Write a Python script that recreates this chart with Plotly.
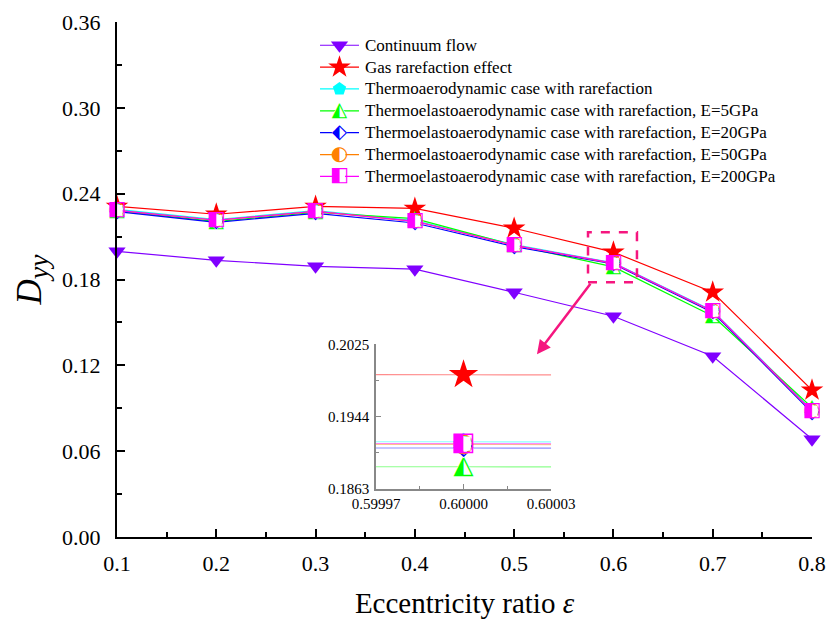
import plotly.graph_objects as go

# ---------------- data ----------------
eps = [0.1, 0.2, 0.3, 0.4, 0.5, 0.6, 0.7, 0.8]
continuum = [0.1997, 0.1934, 0.1892, 0.1872, 0.1711, 0.1543, 0.1264, 0.0684]
rarefaction = [0.2311, 0.2256, 0.2311, 0.2297, 0.2158, 0.1991, 0.1711, 0.1027]
thermo = [0.2290, 0.2218, 0.2282, 0.2212, 0.2044, 0.1916, 0.1582, 0.0885]
te_5 = [0.2280, 0.2205, 0.2270, 0.2226, 0.2040, 0.1888, 0.1545, 0.0905]
te_20 = [0.2275, 0.2200, 0.2262, 0.2195, 0.2030, 0.1909, 0.1570, 0.0870]
te_50 = [0.2284, 0.2214, 0.2276, 0.2207, 0.2039, 0.1913, 0.1577, 0.0879]
te_200 = [0.2283, 0.2214, 0.2277, 0.2207, 0.2039, 0.1914, 0.1578, 0.0880]

names = [
    "Continuum flow",
    "Gas rarefaction effect",
    "Thermoaerodynamic case with rarefaction",
    "Thermoelastoaerodynamic case with rarefaction, E=5GPa",
    "Thermoelastoaerodynamic case with rarefaction, E=20GPa",
    "Thermoelastoaerodynamic case with rarefaction, E=50GPa",
    "Thermoelastoaerodynamic case with rarefaction, E=200GPa",
]
series = [continuum, rarefaction, thermo, te_5, te_20, te_50, te_200]

y_ticks = [0.00, 0.06, 0.12, 0.18, 0.24, 0.30, 0.36]
x_ticks = [0.1, 0.2, 0.3, 0.4, 0.5, 0.6, 0.7, 0.8]
inset_x_ticks = [0.59997, 0.60000, 0.60003]
inset_x_labels = ["0.59997", "0.60000", "0.60003"]
inset_y_ticks = [0.1863, 0.1944, 0.2025]
inset_y_labels = ["0.1863", "0.1944", "0.2025"]

# ---------------- styles ----------------
colors = ["#8000FF", "#FF0000", "#00FFFF", "#00FF00", "#0000FF", "#FF8000", "#FF00FF"]
faint = ["rgba(128,0,255,0.45)", "rgba(255,0,0,0.45)", "rgba(0,255,255,0.45)",
         "rgba(0,255,0,0.45)", "rgba(0,0,255,0.45)", "rgba(255,128,0,0.45)",
         "rgba(255,0,255,0.45)"]
styles = [
    dict(kind="sym", symbol="triangle-down", size=15),
    dict(kind="sym", symbol="star", size=17),
    dict(kind="sym", symbol="pentagon", size=14),
    dict(kind="glyph", glyph="\u25ED", back="triangle-up", gsize=20, bsize=12),
    dict(kind="glyph", glyph="\u2B16", back="diamond", gsize=20, bsize=12),
    dict(kind="glyph", glyph="\u25D0", back="circle", gsize=20, bsize=12),
    dict(kind="glyph", glyph="\u25E7", back="square", gsize=20, bsize=11),
]

SERIF = "Liberation Serif"
PINK = "#F5167F"


def add_series(fig, x, y, i, xa, ya, scale, linecolor, linewidth, clip, lines=True):
    st = styles[i]
    c = colors[i]
    if lines:
        fig.add_trace(go.Scatter(x=x, y=y, xaxis=xa, yaxis=ya, mode="lines", showlegend=False,
                                 line=dict(color=linecolor, width=linewidth), hoverinfo="skip"))
    return (x, y, xa, ya, scale, clip, i)


def add_markers(fig, x, y, i, xa, ya, scale, clip):
    st = styles[i]
    c = colors[i]
    common = dict(x=x, y=y, xaxis=xa, yaxis=ya, showlegend=False, cliponaxis=clip,
                  hoverinfo="skip")
    if st["kind"] == "sym":
        fig.add_trace(go.Scatter(mode="markers",
                                 marker=dict(symbol=st["symbol"], size=st["size"] * scale,
                                             color=c, line=dict(width=0)),
                                 **common))
    else:
        fig.add_trace(go.Scatter(mode="markers+text", text=[st["glyph"]] * len(x),
                                 textposition="middle center",
                                 textfont=dict(family="DejaVu Sans", size=st["gsize"] * scale, color=c),
                                 marker=dict(symbol=st["back"], size=st["bsize"] * scale,
                                             color="white", line=dict(width=0)),
                                 **common))


fig = go.Figure()

# main chart: line then markers for each series (later series on top)
for i, s in enumerate(series):
    add_series(fig, eps, s, i, "x", "y", 1.0, colors[i], 1.2, False)
    add_markers(fig, eps, s, i, "x", "y", 1.0, False)

# inset chart
for i, s in enumerate(series):
    add_series(fig, eps, s, i, "x2", "y2", 1.3, faint[i], 1.2, True)
for i, s in enumerate(series):
    add_markers(fig, eps, s, i, "x2", "y2", 1.3, True)

# custom legend: sample line + centered marker per row
for i in range(len(names)):
    add_series(fig, [0, 1], [i, i], i, "x3", "y3", 1.0, colors[i], 1.2, False)
    add_markers(fig, [0.5], [i], i, "x3", "y3", 1.0, False)

annotations = []
for i, n in enumerate(names):
    annotations.append(dict(x=1, y=i, xref="x3", yref="y3", text=n, showarrow=False,
                            xanchor="left", yanchor="middle", xshift=4,
                            font=dict(family=SERIF, size=17, color="black")))

# arrow from zoom box to inset
annotations.append(dict(x=0.523, y=0.1278, ax=0.578, ay=0.178, xref="x", yref="y",
                        axref="x", ayref="y", text="", showarrow=True, arrowhead=2,
                        arrowsize=1.1, arrowwidth=2.5, arrowcolor=PINK))

fig.update_layout(
    width=826, height=619,
    margin=dict(l=117, r=14, t=22, b=82, autoexpand=False),
    paper_bgcolor="white", plot_bgcolor="white",
    font=dict(family=SERIF, size=22, color="black"),
    showlegend=False,
    annotations=annotations,
    shapes=[dict(type="rect", xref="x", yref="y", x0=0.5744, x1=0.6237, y0=0.1781, y1=0.2130,
                 line=dict(color=PINK, width=2.5, dash="dash"))],
    xaxis=dict(range=[0.1, 0.8], tickvals=x_ticks, ticktext=[f"{v:.1f}" for v in x_ticks],
               automargin=False,
               showline=True, linecolor="black", linewidth=2, ticks="inside", ticklen=8,
               tickwidth=1.5, tickcolor="black", showgrid=False, zeroline=False,
               minor=dict(dtick=0.05, tick0=0.1, ticks="inside", ticklen=5, tickwidth=1.5,
                          tickcolor="black", showgrid=False),
               ticklabelstandoff=6,
               title=dict(text="Eccentricity ratio <i>ε</i>", font=dict(size=29), standoff=18)),
    yaxis=dict(range=[0, 0.36], tickvals=y_ticks, ticktext=[f"{v:.2f}" for v in y_ticks],
               automargin=False,
               showline=True, linecolor="black", linewidth=2, ticks="inside", ticklen=8,
               tickwidth=1.5, tickcolor="black", showgrid=False, zeroline=False,
               minor=dict(dtick=0.03, tick0=0, ticks="inside", ticklen=5, tickwidth=1.5,
                          tickcolor="black", showgrid=False),
               ticklabelstandoff=10,
               title=dict(text="<i>D</i><sub><span style=\"font-size:28px\"><i>yy</i></span></sub>",
                          font=dict(size=35), standoff=10)),
    xaxis2=dict(domain=[0.3727, 0.6245], anchor="y2", range=[0.59997, 0.60003],
                tickvals=inset_x_ticks, ticktext=inset_x_labels, automargin=False,
                showline=True, linecolor="#888888", linewidth=1.5, ticks="inside", ticklen=5,
                tickcolor="#888888", showgrid=False, zeroline=False,
                minor=dict(tickvals=[0.599985, 0.600015], ticks="inside", ticklen=3,
                           tickcolor="#888888", showgrid=False),
                tickfont=dict(size=15), ticklabelstandoff=0),
    yaxis2=dict(domain=[0.093, 0.374], anchor="x2", range=[0.1863, 0.2025],
                tickvals=inset_y_ticks, ticktext=inset_y_labels, automargin=False,
                showline=True, linecolor="#888888", linewidth=1.5, ticks="inside", ticklen=5,
                tickcolor="#888888", showgrid=False, zeroline=False,
                minor=dict(tickvals=[0.19035, 0.19845], ticks="inside", ticklen=3,
                           tickcolor="#888888", showgrid=False),
                tickfont=dict(size=15), ticklabelstandoff=2),
    xaxis3=dict(domain=[0.2921, 0.3482], anchor="y3", range=[0, 1], visible=False,
                automargin=False),
    yaxis3=dict(domain=[0.679, 0.9761], anchor="x3", range=[6.5, -0.5], visible=False,
                automargin=False),
)

fig.write_html("out.html")
